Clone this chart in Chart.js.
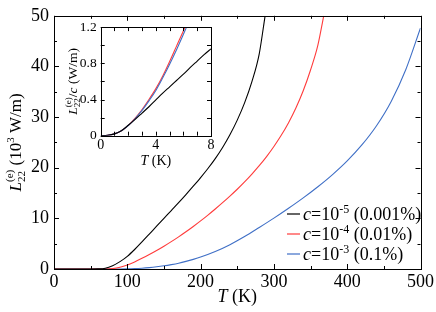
<!DOCTYPE html>
<html><head><meta charset="utf-8">
<script src="https://cdn.jsdelivr.net/npm/chart.js@4.4.1/dist/chart.umd.min.js"></script>
<style>
html,body{margin:0;padding:0;background:#fff;}
#wrap{position:relative;width:436px;height:312px;overflow:hidden;}
#main{position:absolute;left:0;top:0;}
#inset{position:absolute;left:60px;top:15px;}
</style></head><body>
<div id="wrap"><canvas id="main" width="436" height="312"></canvas><canvas id="inset" width="160" height="160"></canvas></div>
<script>
// ---- data ----
const seriesNames = ["c=10^-5 (0.001%)", "c=10^-4 (0.01%)", "c=10^-3 (0.1%)"];
const seriesColors = ["#000000", "#ff3b3b", "#3f6fc6"];

const blackT = [0,50,60,70,80,90,100,110,120,130,140,150,160,170,180,190,200,210,220,230,240,250,260,270,280,288];
const blackL = [0,0,0.02,0.15,0.65,1.45,2.5,3.85,5.35,6.9,8.45,10.0,11.55,13.1,14.7,16.35,18.05,19.85,21.8,24.0,26.5,29.4,32.8,37.0,42.5,50];

const redT = [0,70,80,90,100,110,120,130,140,150,160,170,180,190,200,210,220,230,240,250,260,270,280,290,300,310,320,330,340,350,360,368];
const redL = [0,0,0.08,0.35,0.8,1.4,2.1,2.85,3.65,4.5,5.4,6.35,7.35,8.4,9.5,10.65,11.85,13.1,14.4,15.75,17.2,18.75,20.4,22.2,24.2,26.4,28.9,31.8,35.2,39.3,44.2,50];

const blueT = [0,90,100,110,120,130,140,150,160,170,180,190,200,220,240,260,280,300,320,340,360,380,400,420,440,460,480,500];
const blueL = [0,0,0.02,0.07,0.15,0.27,0.43,0.63,0.87,1.15,1.5,1.9,2.35,3.45,4.8,6.4,8.2,10.05,12.0,14.05,16.25,18.65,21.35,24.5,28.3,33.1,39.4,47.6];

// inset: L/c (W/m) vs T (K)
const insetT     = [0,0.5,1,1.5,2,2.5,3,3.5,4,4.5,5,5.5,6,6.5,7,7.5,8];
const insetBlack = [0,0.005,0.02,0.055,0.115,0.18,0.25,0.32,0.395,0.47,0.54,0.61,0.68,0.755,0.825,0.895,0.96];
const insetRed   = [0,0.005,0.02,0.055,0.115,0.195,0.29,0.40,0.52,0.66,0.82,0.99,1.16,1.34];
const insetBlue  = [0,0.005,0.02,0.055,0.113,0.19,0.28,0.385,0.5,0.64,0.79,0.95,1.12,1.3];

const mainXTicks = [0,100,200,300,400,500];
const mainYTicks = [0,10,20,30,40,50];

// ---- helpers ----
const SERIF = '"Liberation Serif","Times New Roman",serif';
function pts(xs, ys){ return ys.map((y,i)=>({x:xs[i], y:y})); }

function piecesWidth(ctx, pieces){
  let w=0;
  for(const p of pieces){
    ctx.font=p.font;
    if(p.stack){ w+=Math.max(ctx.measureText(p.sup).width, ctx.measureText(p.sub).width); }
    else w+=ctx.measureText(p.t).width;
  }
  return w;
}
function drawPieces(ctx, pieces, x, y){
  ctx.textAlign='left'; ctx.textBaseline='alphabetic';
  for(const p of pieces){
    ctx.font=p.font;
    if(p.stack){
      ctx.fillText(p.sup, x, y+p.supDy);
      ctx.fillText(p.sub, x, y+p.subDy);
      x+=Math.max(ctx.measureText(p.sup).width, ctx.measureText(p.sub).width);
    } else {
      ctx.fillText(p.t, x, y+(p.dy||0));
      x+=ctx.measureText(p.t).width;
    }
  }
}

function tickFrame(opts){
  return {
    id:'tickFrame'+opts.tag,
    afterDraw(chart){
      const ctx=chart.ctx, a=chart.chartArea;
      const xs=chart.scales.x, ys=chart.scales.y;
      ctx.save();
      ctx.strokeStyle='#000'; ctx.lineWidth=1;
      ctx.strokeRect(Math.round(a.left)+0.5, Math.round(a.top)+0.5, Math.round(a.right-a.left), Math.round(a.bottom-a.top));
      ctx.beginPath();
      for(const t of xs.ticks){
        const px=Math.round(xs.getPixelForValue(t.value))+0.5;
        const len=opts.isMajorX(t.value)?opts.major:opts.minor;
        ctx.moveTo(px,a.bottom); ctx.lineTo(px,a.bottom-len);
        ctx.moveTo(px,a.top); ctx.lineTo(px,a.top+len);
      }
      for(const t of ys.ticks){
        const py=Math.round(ys.getPixelForValue(t.value))+0.5;
        const len=opts.isMajorY(t.value)?opts.major:opts.minor;
        ctx.moveTo(a.left,py); ctx.lineTo(a.left+len,py);
        ctx.moveTo(a.right,py); ctx.lineTo(a.right-len,py);
      }
      ctx.stroke();
      ctx.restore();
    }
  };
}

// ---- main chart ----
const mainTextPlugin = {
  id:'mainText',
  afterDraw(chart){
    const ctx=chart.ctx, a=chart.chartArea;
    ctx.save(); ctx.fillStyle='#000';
    const F=18, S=12;
    const yt=[
      {t:'L', font:'italic 17px '+SERIF},
      {stack:true, sup:'(e)', sub:'22', font:'11px '+SERIF, supDy:-8, subDy:4},
      {t:' (10', font:'17px '+SERIF},
      {t:'3', font:'11px '+SERIF, dy:-7},
      {t:' W/m)', font:'17px '+SERIF}
    ];
    const wy=piecesWidth(ctx,yt);
    ctx.translate(21,(a.top+a.bottom)/2);
    ctx.rotate(-Math.PI/2);
    drawPieces(ctx,yt,-wy/2,0);
    ctx.setTransform(1,0,0,1,0,0);
    const xt=[{t:'T', font:'italic '+F+'px '+SERIF},{t:' (K)', font:F+'px '+SERIF}];
    const wx=piecesWidth(ctx,xt);
    drawPieces(ctx,xt,(a.left+a.right)/2-wx/2,302);
    const exps=['-5','-4','-3'], pcts=[' (0.001%)',' (0.01%)',' (0.1%)'];
    const ly=[214,234,254];
    for(let i=0;i<3;i++){
      ctx.strokeStyle=seriesColors[i]; ctx.lineWidth=1.2;
      ctx.beginPath(); ctx.moveTo(287,ly[i]); ctx.lineTo(300,ly[i]); ctx.stroke();
      const lp=[
        {t:'c', font:'italic '+F+'px '+SERIF},
        {t:'=10', font:F+'px '+SERIF},
        {t:exps[i], font:S+'px '+SERIF, dy:-7},
        {t:pcts[i], font:F+'px '+SERIF}
      ];
      drawPieces(ctx,lp,303,ly[i]+6);
    }
    ctx.restore();
  }
};

const mainChart = new Chart(document.getElementById('main'), {
  type:'line',
  data:{datasets:[
    {label:seriesNames[0], data:pts(blackT,blackL), borderColor:seriesColors[0]},
    {label:seriesNames[1], data:pts(redT,redL), borderColor:seriesColors[1]},
    {label:seriesNames[2], data:pts(blueT,blueL), borderColor:seriesColors[2]}
  ]},
  options:{
    responsive:false, animation:false, devicePixelRatio:1,
    layout:{padding:{top:9.5,right:14,left:0,bottom:0}},
    elements:{point:{radius:0}, line:{borderWidth:1.1, cubicInterpolationMode:'monotone'}},
    plugins:{legend:{display:false}, tooltip:{enabled:false}},
    scales:{
      x:{type:'linear', min:0, max:500,
        grid:{display:false, drawTicks:false}, border:{display:false},
        afterFit(s){ s.height=43; },
        ticks:{stepSize:50, autoSkip:false, maxRotation:0, padding:2, color:'#000',
          font:{family:SERIF, size:18},
          callback:(v)=> mainXTicks.includes(v)? String(v):''}
      },
      y:{type:'linear', min:0, max:50,
        grid:{display:false, drawTicks:false}, border:{display:false},
        afterFit(s){ s.width=54; },
        ticks:{stepSize:5, autoSkip:false, padding:5, color:'#000',
          font:{family:SERIF, size:18},
          callback:(v)=> mainYTicks.includes(v)? String(v):''}
      }
    }
  },
  plugins:[tickFrame({tag:'m', major:5, minor:3,
    isMajorX:v=>mainXTicks.includes(v), isMajorY:v=>mainYTicks.includes(v)}), mainTextPlugin]
});

// ---- inset chart ----
const insetTextPlugin = {
  id:'insetText',
  afterDraw(chart){
    const ctx=chart.ctx, a=chart.chartArea;
    ctx.save(); ctx.fillStyle='#000';
    const F=13.5, S=9;
    const yt=[
      {t:'L', font:'italic '+F+'px '+SERIF},
      {stack:true, sup:'(e)', sub:'22', font:S+'px '+SERIF, supDy:-6, subDy:3},
      {t:'/', font:F+'px '+SERIF},
      {t:'c', font:'italic '+F+'px '+SERIF},
      {t:' (W/m)', font:F+'px '+SERIF}
    ];
    const wy=piecesWidth(ctx,yt);
    ctx.translate(17,(a.top+a.bottom)/2);
    ctx.rotate(-Math.PI/2);
    drawPieces(ctx,yt,-wy/2,0);
    ctx.setTransform(1,0,0,1,0,0);
    const xt=[{t:'T', font:'italic 14px '+SERIF},{t:' (K)', font:'14px '+SERIF}];
    const wx=piecesWidth(ctx,xt);
    drawPieces(ctx,xt,(a.left+a.right)/2-wx/2,150);
    ctx.restore();
  }
};

const insetChart = new Chart(document.getElementById('inset'), {
  type:'line',
  data:{datasets:[
    {data:pts(insetT,insetBlack), borderColor:seriesColors[0]},
    {data:pts(insetT,insetBlue), borderColor:seriesColors[2]},
    {data:pts(insetT,insetRed), borderColor:seriesColors[1]}
  ]},
  options:{
    responsive:false, animation:false, devicePixelRatio:1,
    layout:{padding:{top:9.5,right:9,left:0,bottom:0}},
    elements:{point:{radius:0}, line:{borderWidth:1.1, cubicInterpolationMode:'monotone'}},
    plugins:{legend:{display:false}, tooltip:{enabled:false}},
    scales:{
      x:{type:'linear', min:0, max:8,
        grid:{display:false, drawTicks:false}, border:{display:false},
        afterFit(s){ s.height=39.3; },
        ticks:{stepSize:1, autoSkip:false, maxRotation:0, padding:1, color:'#000',
          font:{family:SERIF, size:14},
          callback:(v)=> (v%4===0)? String(v):''}
      },
      y:{type:'linear', min:0, max:1.2,
        grid:{display:false, drawTicks:false}, border:{display:false},
        afterFit(s){ s.width=40.7; },
        ticks:{stepSize:0.2, autoSkip:false, padding:4, color:'#000',
          font:{family:SERIF, size:13.5},
          callback:(v)=>{ const k=Math.round(v*10); return (k%4===0)? (k===0?'0':(k/10).toFixed(1)):''; }}
      }
    }
  },
  plugins:[tickFrame({tag:'i', major:4, minor:4,
    isMajorX:v=>true, isMajorY:v=>true}), insetTextPlugin]
});
</script>
</body></html>
